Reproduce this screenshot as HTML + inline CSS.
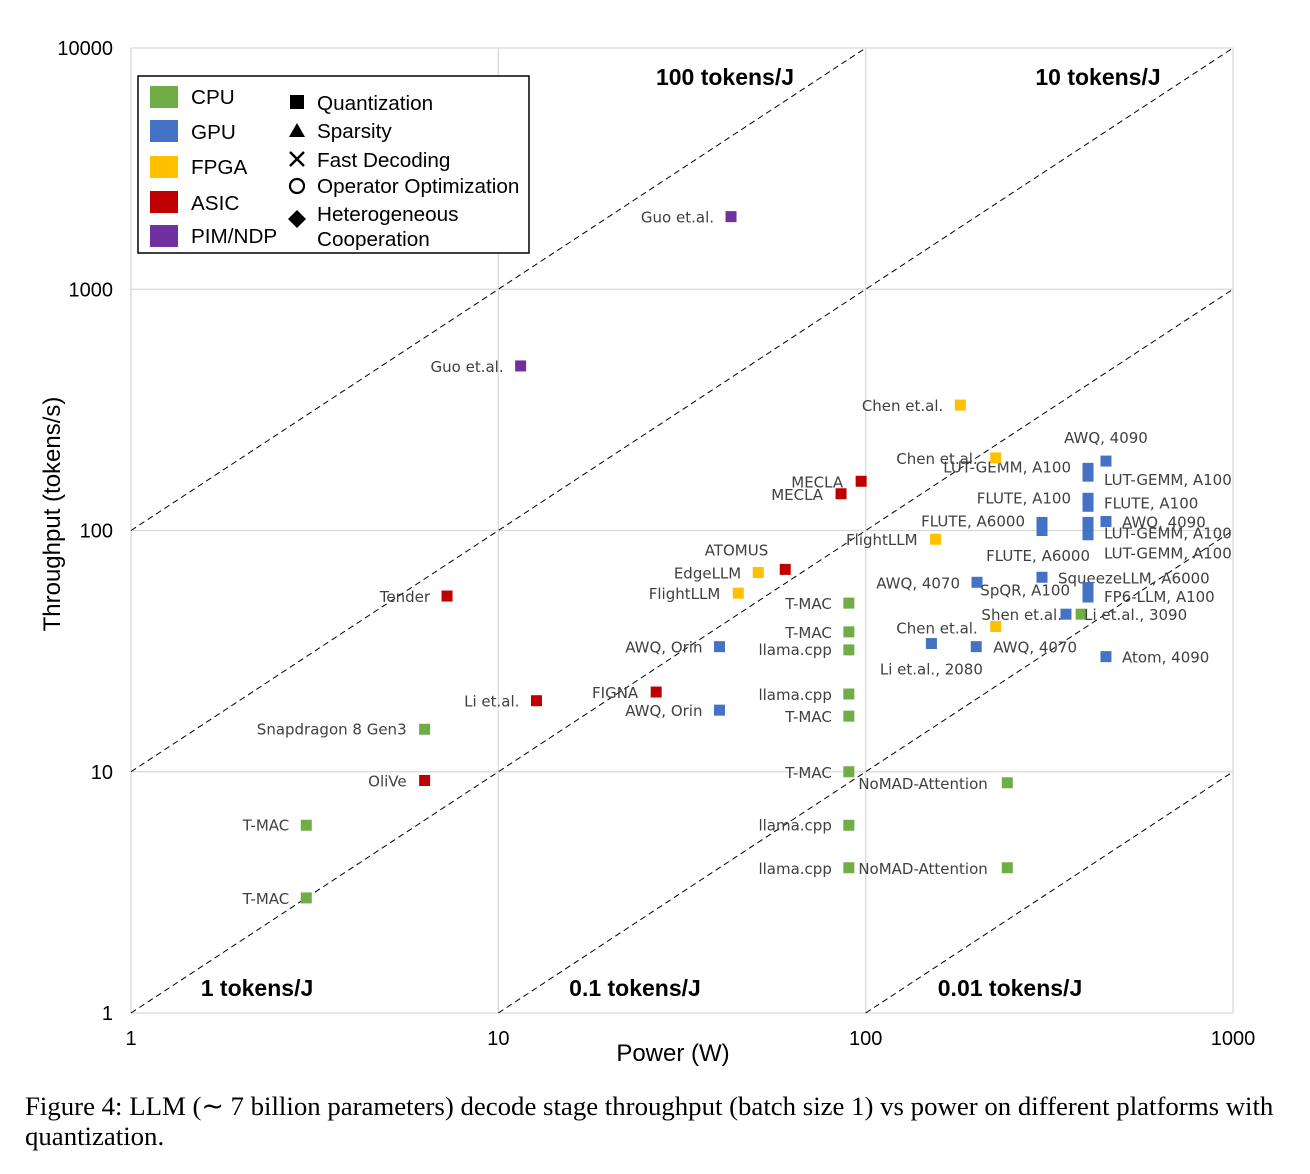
<!DOCTYPE html>
<html><head><meta charset="utf-8"><style>
html,body{margin:0;padding:0;background:#fff;}
svg{display:block;}
.lbl{font-family:"DejaVu Sans","Liberation Sans",sans-serif;font-size:15px;fill:#404040;}
.tick{font-family:"Liberation Sans",sans-serif;font-size:20px;fill:#000;}
.reg{font-family:"Liberation Sans",sans-serif;font-size:23px;font-weight:bold;fill:#000;}
.leg{font-family:"Liberation Sans",sans-serif;font-size:20.7px;fill:#000;}
.cap{font-family:"Liberation Serif",serif;font-size:26.8px;fill:#000;}
</style></head><body>
<svg id="chart" width="1310" height="1174" xmlns="http://www.w3.org/2000/svg">
<g id="grid"></g>
<g id="diag"></g>
<g id="ticks"></g>
<g id="marks"></g>
<text class="reg" x="725" y="85" text-anchor="middle">100 tokens/J</text>
<text class="reg" x="1098" y="85" text-anchor="middle">10 tokens/J</text>
<text class="reg" x="257" y="996" text-anchor="middle">1 tokens/J</text>
<text class="reg" x="635" y="996" text-anchor="middle">0.1 tokens/J</text>
<text class="reg" x="1010" y="996" text-anchor="middle">0.01 tokens/J</text>
<text class="tick" x="673" y="1061" text-anchor="middle" style="font-size:24px">Power (W)</text>
<text class="tick" transform="translate(60,514) rotate(-90)" text-anchor="middle" style="font-size:24px">Throughput (tokens/s)</text>
<g>
<rect x="138" y="76" width="391" height="177" fill="#fff" stroke="#000" stroke-width="1.5"/>
<rect x="150" y="86" width="28" height="22" fill="#70ad47"/><text class="leg" x="191" y="104">CPU</text>
<rect x="150" y="120" width="28" height="22" fill="#4472c4"/><text class="leg" x="191" y="139">GPU</text>
<rect x="150" y="156" width="28" height="22" fill="#ffc000"/><text class="leg" x="191" y="174">FPGA</text>
<rect x="150" y="191" width="28" height="22" fill="#c00000"/><text class="leg" x="191" y="210">ASIC</text>
<rect x="150" y="225" width="28" height="22" fill="#7030a0"/><text class="leg" x="191" y="243">PIM/NDP</text>
<rect x="290" y="95" width="14" height="14" fill="#000"/><text class="leg" x="317" y="110">Quantization</text>
<polygon points="297,123 305,137 289,137" fill="#000"/><text class="leg" x="317" y="138">Sparsity</text>
<path d="M290,152 L304,166 M304,152 L290,166" stroke="#000" stroke-width="2.4"/><text class="leg" x="317" y="167">Fast Decoding</text>
<circle cx="297" cy="186" r="7" fill="none" stroke="#000" stroke-width="2.2"/><text class="leg" x="317" y="193">Operator Optimization</text>
<polygon points="297,210 306,219 297,228 288,219" fill="#000"/><text class="leg" x="317" y="221">Heterogeneous</text><text class="leg" x="317" y="246">Cooperation</text>
</g>
<text class="cap" x="25" y="1115">Figure 4: LLM (∼ 7 billion parameters) decode stage throughput (batch size 1) vs power on different platforms with</text>
<text class="cap" x="25" y="1145">quantization.</text>
</svg>
<script>
const xTicks=[1,10,100,1000];
const yTicks=[1,10,100,1000,10000];
const efficiency=[100,10,1,0.1,0.01];
const platforms=["CPU","GPU","FPGA","ASIC","PIM/NDP"];
const platformColors=["#70ad47","#4472c4","#ffc000","#c00000","#7030a0"];
const labels=["T-MAC","T-MAC","Snapdragon 8 Gen3","T-MAC","T-MAC","llama.cpp","llama.cpp","T-MAC","T-MAC","llama.cpp","llama.cpp","NoMAD-Attention","NoMAD-Attention","Li et.al., 3090",
"AWQ, Orin","AWQ, Orin","AWQ, 4070","AWQ, 4070","Li et.al., 2080","SqueezeLLM, A6000","FLUTE, A6000","","Shen et.al.","SpQR, A100","FP6-LLM, A100","LUT-GEMM, A100","LUT-GEMM, A100","FLUTE, A100","FLUTE, A100","LUT-GEMM, A100","LUT-GEMM, A100","FLUTE, A6000","AWQ, 4090","AWQ, 4090","Atom, 4090",
"Chen et.al.","Chen et.al.","FlightLLM","Chen et.al.","EdgeLLM","FlightLLM",
"Tender","OliVe","Li et.al.","FIGNA","ATOMUS","MECLA","MECLA",
"Guo et.al.","Guo et.al."];
const power=[3,3,6.3,90,90,90,90,90,90,90,90,243,243,386,
40,40,201,200,151,302,302,302,351,403,403,403,403,403,403,403,403,403,451,451,451,
181,226,155,226,51,45,
7.25,6.3,12.7,26.9,60.4,85.7,97.2,
43,11.5];
const throughput=[6,3,15,50,38,32,21,17,10,6,4,9,4,45,
33,18,61,33,34,64,108,100,45,58,53,181,168,136,126,108,100,96,194,109,30,
331,200,92,40,67,55,
53.5,9.2,19.7,21.4,69,142,160,
2000,481];
const platformIdx=[0,0,0,0,0,0,0,0,0,0,0,0,0,0,
1,1,1,1,1,1,1,1,1,1,1,1,1,1,1,1,1,1,1,1,1,
2,2,2,2,2,2,
3,3,3,3,3,3,3,
4,4];
// label layout (pixel offsets, not data): [dx, dy, anchor]
const labelPos=[[-17,5,"e"],[-17,6,"e"],[-18,5,"e"],[-17,6,"e"],[-17,6,"e"],[-17,5,"e"],[-17,6,"e"],[-17,6,"e"],[-17,6,"e"],[-17,5,"e"],[-17,6,"e"],[-149,6,"s"],[-149,6,"s"],[3,6,"s"],
[-17,6,"e"],[-17,6,"e"],[-17,6,"e"],[17,6,"s"],[0,31,"m"],[16,6,"s"],[-17,4,"e"],[-17,-3,"e"],[-4,6,"e"],[-18,8,"e"],[16,5,"s"],[-17,4,"e"],[16,9,"s"],[-17,5,"e"],[16,2,"s"],[16,16,"s"],[16,28,"s"],[2,26,"e"],[0,-18,"m"],[16,6,"s"],[16,6,"s"],
[-17,6,"e"],[-18,6,"e"],[-18,6,"e"],[-18,7,"e"],[-17,6,"e"],[-18,6,"e"],
[-17,6,"e"],[-18,6,"e"],[-17,6,"e"],[-18,6,"e"],[-17,-14,"e"],[-18,6,"e"],[-18,6,"e"],
[-17,6,"e"],[-17,6,"e"]];
const X0=131,X1=1233,Y0=1013,Y1=48;
const xs=v=>X0+Math.log10(v)/3*(X1-X0);
const ys=v=>Y0-Math.log10(v)/4*(Y0-Y1);
const NS="http://www.w3.org/2000/svg";
function mk(t,a,p){const e=document.createElementNS(NS,t);for(const k in a)e.setAttribute(k,a[k]);p.appendChild(e);return e;}
const grid=document.getElementById('grid'),diag=document.getElementById('diag'),ticks=document.getElementById('ticks'),marks=document.getElementById('marks');
xTicks.forEach(v=>{const l=mk('line',{x1:xs(v),x2:xs(v),y1:Y1,y2:Y0,stroke:'#d9d9d9','stroke-width':1.3},grid);


const t=mk('text',{x:xs(v),y:1045,'text-anchor':'middle',class:'tick'},ticks);t.textContent=v;

});
yTicks.forEach(v=>{const l=mk('line',{x1:X0,x2:X1,y1:ys(v),y2:ys(v),stroke:'#d9d9d9','stroke-width':1.3},grid);


const t=mk('text',{x:113,y:ys(v)+7,'text-anchor':'end',class:'tick'},ticks);t.textContent=v;

});
efficiency.forEach(r=>{
let pA=1,tA=r; if(tA<1){pA=1/r;tA=1;}
let pB=1000,tB=r*1000; if(tB>10000){tB=10000;pB=10000/r;}
const l=mk('line',{x1:xs(pA),y1:ys(tA),x2:xs(pB),y2:ys(tB),stroke:'#000','stroke-width':1,'stroke-dasharray':'6,4'},diag);

});
power.forEach((p,i)=>{const cx=xs(p),cy=ys(throughput[i]);
const r=mk('rect',{x:cx-5.5,y:cy-5.5,width:11,height:11,fill:platformColors[platformIdx[i]]},marks);


const lp=labelPos[i];const t=mk('text',{x:cx+lp[0],y:cy+lp[1],class:'lbl','text-anchor':lp[2]=='e'?'end':lp[2]=='m'?'middle':'start'},marks);
t.textContent=labels[i];

});
</script>
</body></html>
